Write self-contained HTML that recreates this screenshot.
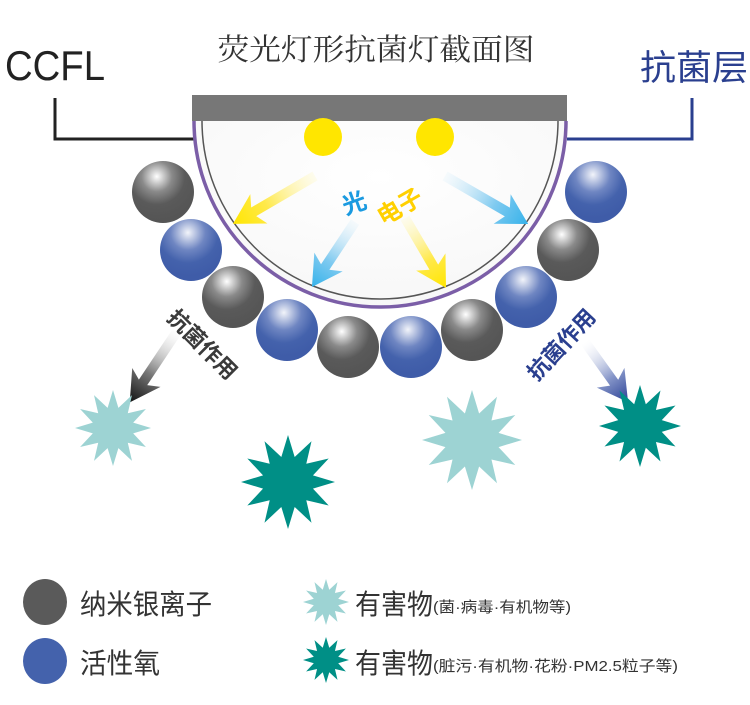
<!DOCTYPE html>
<html><head><meta charset="utf-8"><style>
html,body{margin:0;padding:0;background:#fff;}
svg{display:block;}
</style></head><body>
<svg width="750" height="705" viewBox="0 0 750 705" xmlns="http://www.w3.org/2000/svg" font-family="'Liberation Sans','Noto Sans CJK SC',sans-serif">
<defs>
<radialGradient id="gb" cx="0.4" cy="0.25" r="0.7">
<stop offset="0" stop-color="#ffffff"/><stop offset="0.35" stop-color="#8a8a8a"/><stop offset="0.65" stop-color="#5a5a5a"/><stop offset="1" stop-color="#555"/></radialGradient>
<radialGradient id="bb" cx="0.45" cy="0.22" r="0.7">
<stop offset="0" stop-color="#f2f4fa"/><stop offset="0.4" stop-color="#6f86c2"/><stop offset="0.7" stop-color="#4462ac"/><stop offset="1" stop-color="#3f5ca8"/></radialGradient>
<radialGradient id="glow" cx="0.5" cy="0.3" r="0.7">
<stop offset="0" stop-color="#ffffff"/><stop offset="1" stop-color="#f7f7f7"/></radialGradient>
<linearGradient id="ay" x1="0" x2="1" y1="0" y2="0"><stop offset="0" stop-color="#fff6b0" stop-opacity="0.2"/><stop offset="0.6" stop-color="#ffe94a"/><stop offset="1" stop-color="#ffe600"/></linearGradient>
<linearGradient id="ab" x1="0" x2="1" y1="0" y2="0"><stop offset="0" stop-color="#d8eefa" stop-opacity="0.2"/><stop offset="0.6" stop-color="#7fcaf0"/><stop offset="1" stop-color="#35b2ea"/></linearGradient>
<linearGradient id="ak" x1="0" x2="1" y1="0" y2="0"><stop offset="0" stop-color="#ffffff" stop-opacity="0.2"/><stop offset="0.6" stop-color="#777"/><stop offset="1" stop-color="#111"/></linearGradient>
<linearGradient id="an" x1="0" x2="1" y1="0" y2="0"><stop offset="0" stop-color="#ffffff" stop-opacity="0.2"/><stop offset="0.6" stop-color="#8595c8"/><stop offset="1" stop-color="#2a4095"/></linearGradient>
<polygon id="star" points="1,0 0.531,0.142 0.866,0.5 0.389,0.389 0.5,0.866 0.142,0.531 0,1 -0.142,0.531 -0.5,0.866 -0.389,0.389 -0.866,0.5 -0.531,0.142 -1,0 -0.531,-0.142 -0.866,-0.5 -0.389,-0.389 -0.5,-0.866 -0.142,-0.531 0,-1 0.142,-0.531 0.5,-0.866 0.389,-0.389 0.866,-0.5 0.531,-0.142"/>
</defs>

<text x="376" y="60" font-size="30" text-anchor="middle" fill="#333" style="font-family:'Noto Serif CJK SC',serif" textLength="317" lengthAdjust="spacingAndGlyphs">荧光灯形抗菌灯截面图</text>
<text x="5" y="80" font-size="42" fill="#222" textLength="100" lengthAdjust="spacingAndGlyphs">CCFL</text>
<text x="640" y="80" font-size="35" fill="#2a3f8f" textLength="108" lengthAdjust="spacingAndGlyphs">抗菌层</text>

<polyline points="55,98 55,139 305,139" fill="none" stroke="#222" stroke-width="3"/>
<polyline points="692,98 692,139 567,139" fill="none" stroke="#2a3f8f" stroke-width="3"/>

<path d="M194,121 A186,186 0 0 0 566,121 Z" fill="url(#glow)"/>
<path d="M194,121 A186,186 0 0 0 566,121" fill="none" stroke="#7b5ea7" stroke-width="3.5"/>
<path d="M202,121 A178,178 0 0 0 558,121" fill="none" stroke="#555" stroke-width="1.5"/>
<rect x="192" y="95" width="375" height="26" fill="#777"/>
<circle cx="323" cy="137" r="19" fill="#ffe600"/>
<circle cx="435" cy="137" r="19" fill="#ffe600"/>

<polygon transform="translate(315,176) rotate(149.7)" points="0,-5 71,-5 65,-17 95,0 65,17 71,5 0,5" fill="url(#ay)"/>
<polygon transform="translate(355,222) rotate(123.5)" points="0,-5 54,-5 48,-17 78,0 48,17 54,5 0,5" fill="url(#ab)"/>
<polygon transform="translate(405,218) rotate(59.6)" points="0,-5 57,-5 51,-17 81,0 51,17 57,5 0,5" fill="url(#ay)"/>
<polygon transform="translate(445,176) rotate(30)" points="0,-5 72,-5 66,-17 96,0 66,17 72,5 0,5" fill="url(#ab)"/>
<polygon transform="translate(178,330) rotate(123.7)" points="0,-5 63,-5 57,-17 87,0 57,17 63,5 0,5" fill="url(#ak)"/>
<polygon transform="translate(585,342) rotate(54.4)" points="0,-5 50,-5 44,-17 74,0 44,17 50,5 0,5" fill="url(#an)"/>

<text transform="translate(357,211) rotate(-20)" font-size="24" font-weight="bold" fill="#1a9ae0" text-anchor="middle">光</text>
<text transform="translate(404,214) rotate(-30)" font-size="24" font-weight="bold" fill="#ffd000" text-anchor="middle">电子</text>

<circle cx="163" cy="192" r="31" fill="url(#gb)"/>
<circle cx="191" cy="250" r="31" fill="url(#bb)"/>
<circle cx="233" cy="297" r="31" fill="url(#gb)"/>
<circle cx="287" cy="330" r="31" fill="url(#bb)"/>
<circle cx="348" cy="347" r="31" fill="url(#gb)"/>
<circle cx="411" cy="347" r="31" fill="url(#bb)"/>
<circle cx="472" cy="330" r="31" fill="url(#gb)"/>
<circle cx="526" cy="297" r="31" fill="url(#bb)"/>
<circle cx="568" cy="250" r="31" fill="url(#gb)"/>
<circle cx="596" cy="192" r="31" fill="url(#bb)"/>

<text transform="translate(197,350) rotate(45)" font-size="22" font-weight="bold" fill="#3a3a3a" text-anchor="middle">抗菌作用</text>
<text transform="translate(567,350) rotate(-47)" font-size="22" font-weight="bold" fill="#2a3f8f" text-anchor="middle">抗菌作用</text>

<use href="#star" transform="translate(113,428) scale(38)" fill="#9dd3d3"/>
<use href="#star" transform="translate(288,482) scale(47)" fill="#008f86"/>
<use href="#star" transform="translate(472,440) scale(50)" fill="#9dd3d3"/>
<use href="#star" transform="translate(640,426) scale(41)" fill="#008f86"/>

<ellipse cx="45" cy="602" rx="22" ry="23" fill="#5a5a5a"/>
<ellipse cx="45" cy="661" rx="22" ry="23" fill="#4462ac"/>
<text x="80" y="614" font-size="28" fill="#333" textLength="132" lengthAdjust="spacingAndGlyphs">纳米银离子</text>
<text x="80" y="673" font-size="28" fill="#333" textLength="80" lengthAdjust="spacingAndGlyphs">活性氧</text>
<use href="#star" transform="translate(326,602) scale(23)" fill="#9dd3d3"/>
<use href="#star" transform="translate(326,660) scale(23)" fill="#008f86"/>
<text x="355" y="614" font-size="28" fill="#333" textLength="78" lengthAdjust="spacingAndGlyphs">有害物</text>
<text x="433" y="612" font-size="15" fill="#333" textLength="138" lengthAdjust="spacingAndGlyphs">(菌·病毒·有机物等)</text>
<text x="355" y="673" font-size="28" fill="#333" textLength="78" lengthAdjust="spacingAndGlyphs">有害物</text>
<text x="433" y="671" font-size="15" fill="#333" textLength="245" lengthAdjust="spacingAndGlyphs">(脏污·有机物·花粉·PM2.5粒子等)</text>
</svg>
</body></html>
